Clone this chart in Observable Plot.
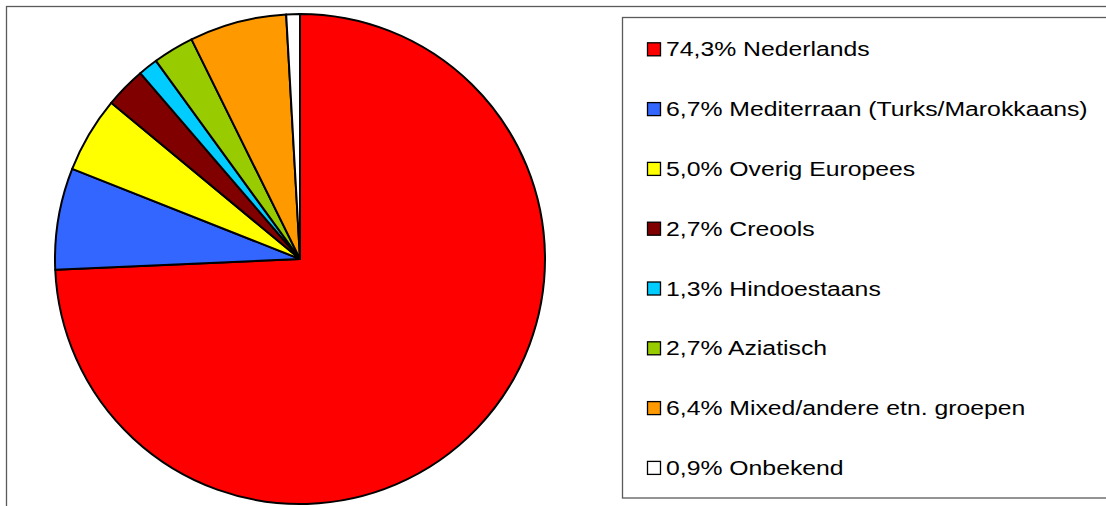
<!DOCTYPE html>
<html>
<head>
<meta charset="utf-8">
<script src="https://cdn.jsdelivr.net/npm/d3@7"></script>
<script src="https://cdn.jsdelivr.net/npm/@observablehq/plot@0.6"></script>
<style>
  html, body { margin: 0; padding: 0; background: #fff; }
  svg { display: block; }
</style>
</head>
<body>
<div id="chart"></div>
<script>
const categories = ["Nederlands", "Mediterraan (Turks/Marokkaans)", "Overig Europees", "Creools", "Hindoestaans", "Aziatisch", "Mixed/andere etn. groepen", "Onbekend"];
const values = [74.3, 6.7, 5.0, 2.7, 1.3, 2.7, 6.4, 0.9];
const labels = ["74,3%", "6,7%", "5,0%", "2,7%", "1,3%", "2,7%", "6,4%", "0,9%"];
const colors = ["#FF0000", "#3366FF", "#FFFF00", "#800000", "#00CCFF", "#99CC00", "#FF9900", "#FFFFFF"];

const data = categories.map((c, i) => ({category: c, value: values[i], label: labels[i]}));

const W = 1106, H = 506;
const cx = 300, cy = 259, R = 245;

const ns = "http://www.w3.org/2000/svg";
function el(tag, attrs) {
  const e = document.createElementNS(ns, tag);
  for (const k in attrs) e.setAttribute(k, attrs[k]);
  return e;
}

// frames
const frames = () => {
  const g = el("g", {});
  g.appendChild(el("rect", {x: 6.5, y: 6.5, width: W + 20, height: H + 20, fill: "none", stroke: "#5a5a5a", "stroke-width": 1.3}));
  g.appendChild(el("rect", {x: 622.5, y: 17.5, width: 500, height: 480.5, fill: "none", stroke: "#5a5a5a", "stroke-width": 1.3}));
  return g;
};

// pie slices
const pieMark = (index, scales) => {
  const x0 = scales.x(0), y0 = scales.y(0);
  const r = scales.x(1) - scales.x(0);
  const arcs = d3.pie().sort(null).value(d => d.value).startAngle(0).endAngle(2 * Math.PI)(data);
  const arc = d3.arc().innerRadius(0).outerRadius(r);
  const g = el("g", {transform: `translate(${x0},${y0})`});
  for (const a of arcs) {
    g.appendChild(el("path", {d: arc(a), fill: scales.color(a.data.category), stroke: "#000", "stroke-width": 2, "stroke-linejoin": "round"}));
  }
  return g;
};

// legend
const legendMark = (index, scales) => {
  const g = el("g", {"text-anchor": "start"});
  data.forEach((d, i) => {
    const base = 56.3 + i * 59.8;
    g.appendChild(el("rect", {x: 647.5, y: base - 13.5, width: 13, height: 13, fill: scales.color(d.category), stroke: "#000", "stroke-width": 1.3}));
    const t = el("text", {transform: `translate(666,${base}) scale(1.18,1)`, "text-anchor": "start", "font-family": "Liberation Sans, Arial, sans-serif", "font-size": 21, fill: "#000"});
    t.textContent = `${d.label} ${d.category}`;
    g.appendChild(t);
  });
  return g;
};

const plot = Plot.plot({
  width: W,
  height: H,
  margin: 0,
  style: {background: "#fff", overflow: "hidden"},
  x: {domain: [-cx / R, (W - cx) / R], range: [0, W], axis: null},
  y: {domain: [-(H - cy) / R, cy / R], range: [H, 0], axis: null},
  color: {domain: categories, range: colors},
  marks: [
    frames,
    pieMark,
    legendMark
  ]
});
document.getElementById("chart").appendChild(plot);
</script>
</body>
</html>
